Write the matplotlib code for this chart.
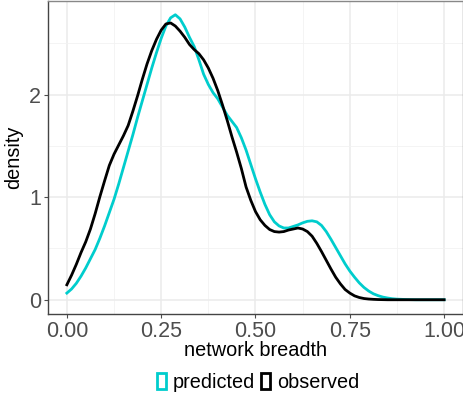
import matplotlib.pyplot as plt
from matplotlib.patches import Rectangle
from matplotlib.ticker import MultipleLocator

# 数据：密度曲线（x 步长 0.0125）
breadth = [i * 0.0125 for i in range(81)]

predicted = [0.065, 0.105, 0.16, 0.23, 0.31, 0.40, 0.49, 0.60, 0.72, 0.85,
             0.98, 1.13, 1.29, 1.45, 1.61, 1.78, 1.94, 2.10, 2.26, 2.41,
             2.55, 2.67, 2.75, 2.78, 2.74, 2.66, 2.56, 2.47, 2.34, 2.20,
             2.10, 2.02, 1.96, 1.88, 1.80, 1.74, 1.68, 1.58, 1.46, 1.32,
             1.18, 1.05, 0.93, 0.83, 0.76, 0.72, 0.70, 0.70, 0.715, 0.73,
             0.75, 0.765, 0.77, 0.76, 0.725, 0.665, 0.59, 0.51, 0.43, 0.35,
             0.28, 0.22, 0.165, 0.12, 0.085, 0.058, 0.04, 0.026, 0.017, 0.01,
             0.006, 0.004, 0.002, 0.001, 0.0, 0.0, 0.0, 0.0, 0.0, 0.0,
             0.0]

observed = [0.146, 0.24, 0.345, 0.46, 0.565, 0.69, 0.84, 1.005, 1.16, 1.31,
            1.42, 1.51, 1.60, 1.70, 1.84, 1.99, 2.15, 2.30, 2.43, 2.54,
            2.63, 2.69, 2.70, 2.67, 2.62, 2.56, 2.49, 2.44, 2.40, 2.34,
            2.26, 2.16, 2.04, 1.90, 1.75, 1.59, 1.44, 1.28, 1.10, 0.97,
            0.86, 0.78, 0.725, 0.685, 0.665, 0.66, 0.665, 0.68, 0.69, 0.70,
            0.69, 0.665, 0.62, 0.55, 0.47, 0.385, 0.30, 0.22, 0.155, 0.10,
            0.065, 0.038, 0.022, 0.012, 0.007, 0.004, 0.002, 0.001, 0.0, 0.0,
            0.0, 0.0, 0.0, 0.0, 0.0, 0.0, 0.0, 0.0, 0.0, 0.0,
            0.0]

series_names = ['predicted', 'observed']
series_colors = ['#00CDCD', '#000000']

plt.rcParams['font.family'] = ['Liberation Sans', 'DejaVu Sans']

fig = plt.figure(figsize=(4.64, 3.96), dpi=100)
ax = fig.add_axes([48 / 464, 82 / 396, 415 / 464, 313.5 / 396])

# 网格
ax.xaxis.set_major_locator(MultipleLocator(0.25))
ax.xaxis.set_minor_locator(MultipleLocator(0.125))
ax.yaxis.set_major_locator(MultipleLocator(1))
ax.yaxis.set_minor_locator(MultipleLocator(0.5))
ax.grid(True, which='major', color='#EBEBEB', linewidth=1.1)
ax.grid(True, which='minor', color='#F2F2F2', linewidth=0.6)
ax.set_axisbelow(True)

for ys, name, col in zip([predicted, observed], series_names, series_colors):
    ax.plot(breadth, ys, color=col, linewidth=2.0, solid_joinstyle='round', label=name)

ymax = max(max(predicted), max(observed))
ax.set_xlim(-0.05, 1.05)
ax.set_ylim(-0.05 * ymax, 1.05 * ymax)

ax.set_xticks([0, 0.25, 0.5, 0.75, 1.0])
ax.set_xticklabels(['0.00', '0.25', '0.50', '0.75', '1.00'])
ax.set_yticks([0, 1, 2])
ax.set_yticklabels(['0', '1', '2'])
ax.tick_params(axis='both', which='major', labelsize=15.5, labelcolor='#4D4D4D',
               color='#4D4D4D', length=3, width=0.8, pad=2)
ax.tick_params(axis='both', which='minor', length=0)

for side in ['top', 'right']:
    ax.spines[side].set_color('#888888')
    ax.spines[side].set_linewidth(1.0)
for side in ['left', 'bottom']:
    ax.spines[side].set_color('#444444')
    ax.spines[side].set_linewidth(1.0)

ax.set_xlabel('network breadth', fontsize=14.3, labelpad=-1)
ax.set_ylabel('density', fontsize=14.3, labelpad=4)

# 图例：空心框
handles = [Rectangle((0, 0), 1, 1, facecolor='white', edgecolor=c, linewidth=2)
           for c in series_colors]
fig.legend(handles, series_names, loc='center', bbox_to_anchor=(258 / 464, 1 - 382.5 / 396),
           ncol=2, frameon=False, fontsize=14.3, handlelength=0.45, handleheight=0.85,
           handletextpad=0.35, columnspacing=0.3, borderaxespad=0)

fig.savefig('out.png', dpi=100)
